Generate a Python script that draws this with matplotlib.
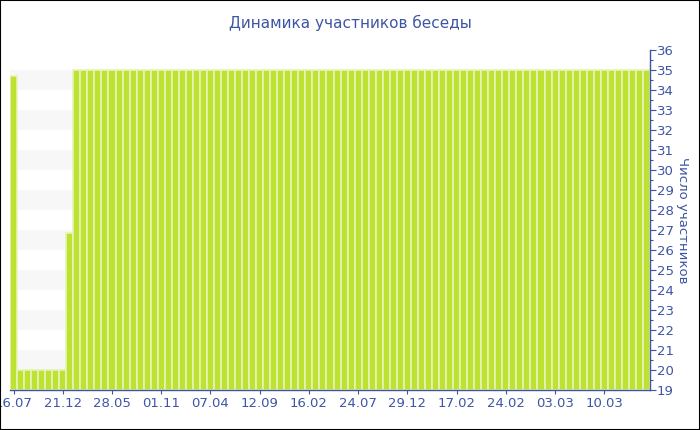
import matplotlib.pyplot as plt
from matplotlib.patches import Rectangle

# values, one bar per snapshot
members = [34.7] + [20] * 7 + [26.85] + [35] * 82
tick_labels = ['16.07', '21.12', '28.05', '01.11', '07.04', '12.09', '16.02',
               '24.07', '29.12', '17.02', '24.02', '03.03', '10.03']
tick_step = 7

blue = '#3d55a3'
green = '#bde232'

fig = plt.figure(figsize=(7, 4.3), dpi=100)
ax = fig.add_axes([0.0143, 0.093, 0.9143, 0.791])

# striped background
for lo in range(20, 35, 2):
    ax.axhspan(lo, lo + 1, color='#f7f7f7', zorder=0, lw=0)

x = list(range(len(members)))
ax.bar(x, [v - 19 for v in members], bottom=19, width=1.0, color=green,
       edgecolor='#e6f4b8', linewidth=1.2, zorder=2)

ax.set_xlim(-0.5, len(members) - 0.5)
ax.set_ylim(19, 36)

ax.set_xticks(x[::tick_step][:len(tick_labels)])
ax.set_xticklabels(tick_labels)
ax.yaxis.tick_right()
ax.yaxis.set_label_position('right')
ax.set_yticks(range(19, 37))
ax.set_yticks([v + 0.5 for v in range(19, 36)], minor=True)

for s in ['top', 'left']:
    ax.spines[s].set_visible(False)
for s in ['bottom', 'right']:
    ax.spines[s].set_color(blue)
    ax.spines[s].set_linewidth(1)

ax.tick_params(axis='both', colors=blue, labelcolor=blue, labelsize=9.5,
               length=4, width=0.8, pad=1)
ax.tick_params(axis='y', which='minor', colors=blue, length=2, width=0.8)
ax.tick_params(axis='x', length=3, pad=2)

ax.set_ylabel('Число участников', color=blue, fontsize=9.5, rotation=-90,
              labelpad=11)
fig.text(0.5, 0.947, 'Динамика участников беседы', color=blue, fontsize=11,
         ha='center', va='center')

fig.patches.append(Rectangle((0, 0), 1, 1, transform=fig.transFigure,
                             fill=False, edgecolor='black', linewidth=1.5))

fig.savefig('out.png', dpi=100)
